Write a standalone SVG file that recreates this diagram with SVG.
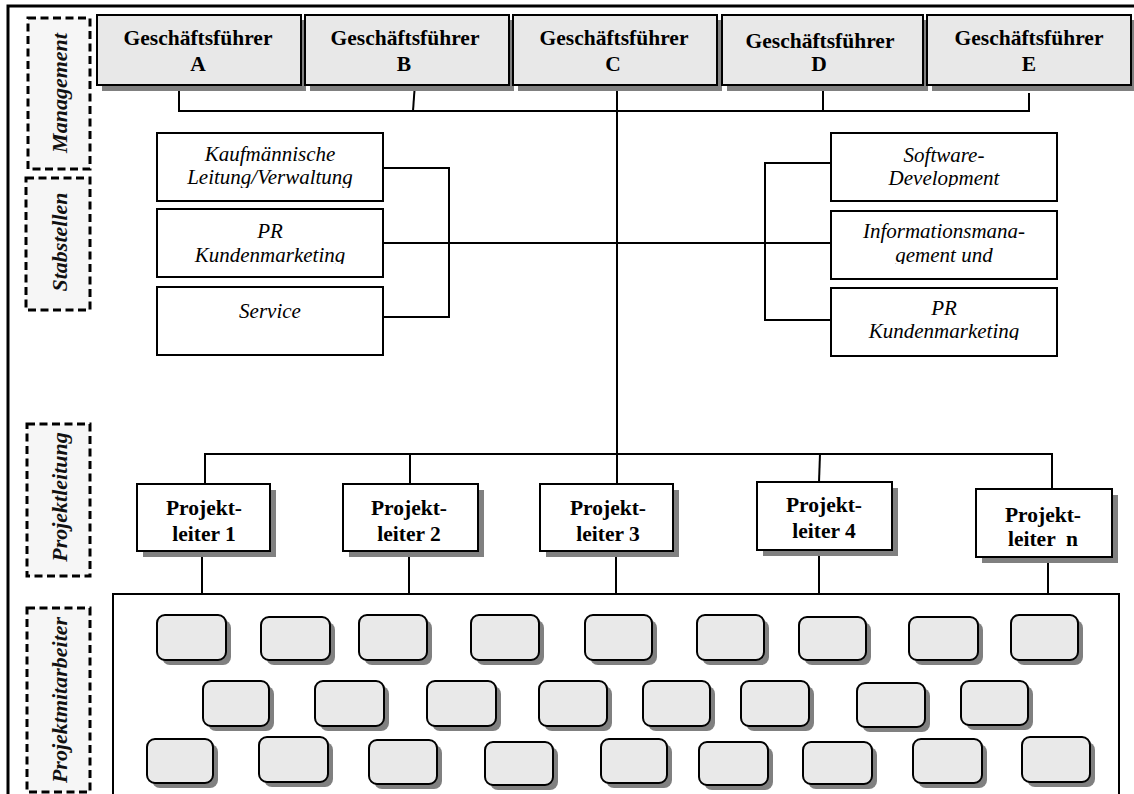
<svg xmlns="http://www.w3.org/2000/svg" width="1134" height="794" viewBox="0 0 1134 794">
  <style>
    .lane { fill: #f6f6f6; stroke: #000; stroke-width: 3; stroke-dasharray: 8 4.5; }
    .laneText { font-family: "Liberation Serif", "Times New Roman", serif; font-size: 22px; font-weight: bold; font-style: italic; fill: #111; text-anchor: middle; }
    .gf { fill: #e8e8e8; stroke: #000; stroke-width: 2; }
    .shadow { fill: #808080; }
    .boldText { font-family: "Liberation Serif", "Times New Roman", serif; font-size: 21.5px; font-weight: bold; fill: #000; text-anchor: middle; }
    .staff { fill: #fff; stroke: #000; stroke-width: 2; }
    .italicText { font-family: "Liberation Serif", "Times New Roman", serif; font-size: 21px; font-style: italic; fill: #000; text-anchor: middle; }
    .pl { fill: #fff; stroke: #000; stroke-width: 2; }
    .emp { fill: #e9e9e9; stroke: #000; stroke-width: 2; }
    .conn { fill: none; stroke: #000; stroke-width: 2; }
    .frame { fill: none; stroke: #000; stroke-width: 3; }
  </style>
  <defs>
    <clipPath id="clipL1"><rect x="157" y="133" width="226" height="55"/></clipPath>
    <clipPath id="clipL2"><rect x="157" y="209" width="226" height="55"/></clipPath>
    <clipPath id="clipR1"><rect x="831" y="133" width="226" height="54"/></clipPath>
    <clipPath id="clipR2"><rect x="831" y="211" width="226" height="53"/></clipPath>
    <clipPath id="clipR3"><rect x="831" y="288" width="226" height="52"/></clipPath>
  </defs>

  <rect width="1134" height="794" fill="#fff"/>

  <!-- outer frame (top and left edges) -->
  <path class="frame" d="M8 794 V6 H1134"/>

  <!-- lane labels -->
  <g id="lane-management">
    <rect class="lane" x="28" y="18" width="62" height="151"/>
    <text class="laneText" transform="rotate(-90 60 93)" x="60" y="100">Management</text>
  </g>
  <g id="lane-stabstellen">
    <rect class="lane" x="26" y="178" width="64" height="132"/>
    <text class="laneText" transform="rotate(-90 60 242)" x="60" y="249">Stabstellen</text>
  </g>
  <g id="lane-projektleitung">
    <rect class="lane" x="27" y="424" width="63" height="152"/>
    <text class="laneText" transform="rotate(-90 60 497)" x="60" y="504">Projektleitung</text>
  </g>
  <g id="lane-projektmitarbeiter">
    <rect class="lane" x="27" y="608" width="63" height="184"/>
    <text class="laneText" transform="rotate(-90 60 700)" x="60" y="707">Projektmitarbeiter</text>
  </g>

  <!-- connectors -->
  <g id="connectors">
    <path class="conn" d="M179 83 V111 H1029 V93"/>
    <path class="conn" d="M415 83 L413 111"/>
    <path class="conn" d="M823 81 V111"/>
    <path class="conn" d="M617 81 V484"/>
    <!-- staff brackets -->
    <path class="conn" d="M383 168 H449 V317 H383"/>
    <path class="conn" d="M383 243 H831"/>
    <path class="conn" d="M831 163 H765 V320 H831"/>
    <!-- project leader bus -->
    <path class="conn" d="M205 491 V454 H1052 V489"/>
    <path class="conn" d="M410 454 V484"/>
    <path class="conn" d="M820 454 L819 482"/>
    <!-- leaders to team -->
    <path class="conn" d="M202 551 V594"/>
    <path class="conn" d="M409 551 V594"/>
    <path class="conn" d="M616 551 V594"/>
    <path class="conn" d="M819 549 V594"/>
    <path class="conn" d="M1048 557 V594"/>
  </g>

  <!-- management -->
  <g id="gf-a">
    <rect class="shadow" x="102" y="20" width="204" height="71"/>
    <rect class="gf" x="97" y="15" width="204" height="70"/>
    <text class="boldText" x="198" y="45">Geschäftsführer</text>
    <text class="boldText" x="198" y="71">A</text>
  </g>
  <g id="gf-b">
    <rect class="shadow" x="310" y="20" width="204" height="71"/>
    <rect class="gf" x="305" y="15" width="204" height="70"/>
    <text class="boldText" x="405" y="45">Geschäftsführer</text>
    <text class="boldText" x="404" y="71">B</text>
  </g>
  <g id="gf-c">
    <rect class="shadow" x="518" y="20" width="204" height="71"/>
    <rect class="gf" x="513" y="15" width="204" height="70"/>
    <text class="boldText" x="614" y="45">Geschäftsführer</text>
    <text class="boldText" x="613" y="71">C</text>
  </g>
  <g id="gf-d">
    <rect class="shadow" x="727" y="20" width="201" height="71"/>
    <rect class="gf" x="722" y="15" width="201" height="70"/>
    <text class="boldText" x="820" y="48">Geschäftsführer</text>
    <text class="boldText" x="819" y="71">D</text>
  </g>
  <g id="gf-e">
    <rect class="shadow" x="932" y="20" width="204" height="71"/>
    <rect class="gf" x="927" y="15" width="204" height="70"/>
    <text class="boldText" x="1029" y="45">Geschäftsführer</text>
    <text class="boldText" x="1029" y="71">E</text>
  </g>

  <!-- staff units, left -->
  <g id="staff-kaufm">
    <rect class="staff" x="157" y="133" width="226" height="68"/>
    <g clip-path="url(#clipL1)">
      <text class="italicText" x="270" y="161">Kaufmännische</text>
      <text class="italicText" x="270" y="184">Leitung/Verwaltung</text>
    </g>
  </g>
  <g id="staff-pr-left">
    <rect class="staff" x="157" y="209" width="226" height="68"/>
    <g clip-path="url(#clipL2)">
      <text class="italicText" x="270" y="238">PR</text>
      <text class="italicText" x="270" y="262">Kundenmarketing</text>
    </g>
  </g>
  <g id="staff-service">
    <rect class="staff" x="157" y="287" width="226" height="68"/>
    <text class="italicText" x="270" y="318">Service</text>
  </g>

  <!-- staff units, right -->
  <g id="staff-software">
    <rect class="staff" x="831" y="133" width="226" height="68"/>
    <g clip-path="url(#clipR1)">
      <text class="italicText" x="944" y="162">Software-</text>
      <text class="italicText" x="944" y="185">Development</text>
    </g>
  </g>
  <g id="staff-info">
    <rect class="staff" x="831" y="211" width="226" height="68"/>
    <g clip-path="url(#clipR2)">
      <text class="italicText" x="944" y="238">Informationsmana-</text>
      <text class="italicText" x="944" y="262">gement und</text>
    </g>
  </g>
  <g id="staff-pr-right">
    <rect class="staff" x="831" y="288" width="226" height="68"/>
    <g clip-path="url(#clipR3)">
      <text class="italicText" x="944" y="315">PR</text>
      <text class="italicText" x="944" y="338">Kundenmarketing</text>
    </g>
  </g>

  <!-- project leaders -->
  <g id="pl-1">
    <rect class="shadow" x="143" y="490" width="133" height="67"/>
    <rect class="pl" x="137" y="484" width="133" height="67"/>
    <text class="boldText" x="204" y="515">Projekt-</text>
    <text class="boldText" x="204" y="541">leiter 1</text>
  </g>
  <g id="pl-2">
    <rect class="shadow" x="349" y="490" width="135" height="67"/>
    <rect class="pl" x="343" y="484" width="135" height="67"/>
    <text class="boldText" x="409" y="515">Projekt-</text>
    <text class="boldText" x="409" y="541">leiter 2</text>
  </g>
  <g id="pl-3">
    <rect class="shadow" x="546" y="490" width="133" height="67"/>
    <rect class="pl" x="540" y="484" width="133" height="67"/>
    <text class="boldText" x="608" y="515">Projekt-</text>
    <text class="boldText" x="608" y="541">leiter 3</text>
  </g>
  <g id="pl-4">
    <rect class="shadow" x="763" y="488" width="135" height="68"/>
    <rect class="pl" x="757" y="482" width="135" height="68"/>
    <text class="boldText" x="824" y="512">Projekt-</text>
    <text class="boldText" x="824" y="538">leiter 4</text>
  </g>
  <g id="pl-n">
    <rect class="shadow" x="982" y="495" width="136" height="68"/>
    <rect class="pl" x="976" y="489" width="136" height="68"/>
    <text class="boldText" x="1043" y="522">Projekt-</text>
    <text class="boldText" x="1043" y="546" xml:space="preserve">leiter  n</text>
  </g>

  <!-- project team -->
  <g id="team">
    <rect class="staff" x="113" y="594" width="1006" height="210"/>
    <g id="team-row-1">
      <rect class="shadow" x="162" y="620" width="69" height="45" rx="8"/><rect class="emp" x="157" y="615" width="69" height="45" rx="8"/>
      <rect class="shadow" x="266" y="622" width="69" height="43" rx="8"/><rect class="emp" x="261" y="617" width="69" height="43" rx="8"/>
      <rect class="shadow" x="364" y="620" width="68" height="45" rx="8"/><rect class="emp" x="359" y="615" width="68" height="45" rx="8"/>
      <rect class="shadow" x="476" y="620" width="68" height="45" rx="8"/><rect class="emp" x="471" y="615" width="68" height="45" rx="8"/>
      <rect class="shadow" x="590" y="620" width="67" height="45" rx="8"/><rect class="emp" x="585" y="615" width="67" height="45" rx="8"/>
      <rect class="shadow" x="702" y="620" width="67" height="45" rx="8"/><rect class="emp" x="697" y="615" width="67" height="45" rx="8"/>
      <rect class="shadow" x="804" y="622" width="67" height="43" rx="8"/><rect class="emp" x="799" y="617" width="67" height="43" rx="8"/>
      <rect class="shadow" x="914" y="622" width="69" height="43" rx="8"/><rect class="emp" x="909" y="617" width="69" height="43" rx="8"/>
      <rect class="shadow" x="1016" y="620" width="67" height="45" rx="8"/><rect class="emp" x="1011" y="615" width="67" height="45" rx="8"/>
    </g>
    <g id="team-row-2">
      <rect class="shadow" x="208" y="686" width="66" height="45" rx="8"/><rect class="emp" x="203" y="681" width="66" height="45" rx="8"/>
      <rect class="shadow" x="320" y="686" width="69" height="45" rx="8"/><rect class="emp" x="315" y="681" width="69" height="45" rx="8"/>
      <rect class="shadow" x="432" y="686" width="69" height="45" rx="8"/><rect class="emp" x="427" y="681" width="69" height="45" rx="8"/>
      <rect class="shadow" x="544" y="686" width="68" height="45" rx="8"/><rect class="emp" x="539" y="681" width="68" height="45" rx="8"/>
      <rect class="shadow" x="648" y="686" width="67" height="45" rx="8"/><rect class="emp" x="643" y="681" width="67" height="45" rx="8"/>
      <rect class="shadow" x="746" y="686" width="68" height="45" rx="8"/><rect class="emp" x="741" y="681" width="68" height="45" rx="8"/>
      <rect class="shadow" x="862" y="688" width="68" height="44" rx="8"/><rect class="emp" x="857" y="683" width="68" height="44" rx="8"/>
      <rect class="shadow" x="966" y="686" width="67" height="44" rx="8"/><rect class="emp" x="961" y="681" width="67" height="44" rx="8"/>
    </g>
    <g id="team-row-3">
      <rect class="shadow" x="152" y="744" width="66" height="44" rx="8"/><rect class="emp" x="147" y="739" width="66" height="44" rx="8"/>
      <rect class="shadow" x="264" y="742" width="69" height="45" rx="8"/><rect class="emp" x="259" y="737" width="69" height="45" rx="8"/>
      <rect class="shadow" x="374" y="745" width="68" height="44" rx="8"/><rect class="emp" x="369" y="740" width="68" height="44" rx="8"/>
      <rect class="shadow" x="490" y="747" width="68" height="43" rx="8"/><rect class="emp" x="485" y="742" width="68" height="43" rx="8"/>
      <rect class="shadow" x="606" y="744" width="66" height="44" rx="8"/><rect class="emp" x="601" y="739" width="66" height="44" rx="8"/>
      <rect class="shadow" x="704" y="747" width="69" height="43" rx="8"/><rect class="emp" x="699" y="742" width="69" height="43" rx="8"/>
      <rect class="shadow" x="808" y="747" width="69" height="42" rx="8"/><rect class="emp" x="803" y="742" width="69" height="42" rx="8"/>
      <rect class="shadow" x="918" y="744" width="69" height="44" rx="8"/><rect class="emp" x="913" y="739" width="69" height="44" rx="8"/>
      <rect class="shadow" x="1027" y="742" width="68" height="45" rx="8"/><rect class="emp" x="1022" y="737" width="68" height="45" rx="8"/>
    </g>
  </g>
</svg>
